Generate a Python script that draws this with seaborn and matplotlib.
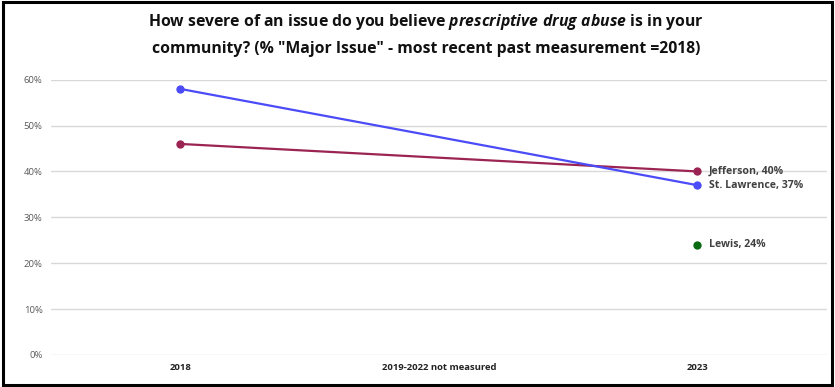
import matplotlib.pyplot as plt
import matplotlib.patches as mpatches
import seaborn as sns
import pandas as pd

# x categories (middle one has no measurement)
periods = ["2018", "2019-2022 not measured", "2023"]

# % "Major Issue" by county
jefferson = [46, None, 40]
st_lawrence = [58, None, 37]
lewis = [None, None, 24]

series = {"Jefferson": jefferson, "St. Lawrence": st_lawrence, "Lewis": lewis}
colors = {"Jefferson": "#9B2453", "St. Lawrence": "#4B4BF7", "Lewis": "#0B6B12"}

rows = []
for name, vals in series.items():
    for i, v in enumerate(vals):
        if v is not None:
            rows.append({"county": name, "pos": i, "pct": v / 100})
df = pd.DataFrame(rows)

sns.set_theme(style="white")
plt.rcParams["font.family"] = ["Open Sans", "DejaVu Sans"]
# bold italic for the highlighted phrase in the title
plt.rcParams["mathtext.fontset"] = "custom"
plt.rcParams["mathtext.it"] = "Open Sans:italic:bold"
plt.rcParams["mathtext.rm"] = "Open Sans:bold"

fig = plt.figure(figsize=(8.35, 3.87), dpi=100)
ax = fig.add_axes([0.061, 0.083, 0.929, 0.711])

sns.lineplot(data=df, x="pos", y="pct", hue="county", palette=colors,
             marker="o", markersize=6, markeredgewidth=0, linewidth=1.6,
             legend=False, ax=ax)

# end labels at last point of each series
for name, g in df.groupby("county"):
    last = g.iloc[-1]
    ax.text(last["pos"] + 0.045, last["pct"], f"{name}, {int(round(last['pct'] * 100))}%",
            va="center", ha="left", fontsize=7.6, fontweight="bold", color="#404040")

ax.set_xlim(-0.5, 2.5)
ax.set_ylim(0, 0.6)
ax.set_yticks([i / 10 for i in range(7)])
ax.set_yticklabels([f"{i * 10}%" for i in range(7)], fontsize=6.8, color="#595959")
ax.set_xticks(range(len(periods)))
ax.set_xticklabels(periods, fontsize=6.8, fontweight="bold", color="#222222")
ax.tick_params(axis="both", length=0, pad=6)
ax.set_xlabel("")
ax.set_ylabel("")
ax.grid(axis="y", color="#D9D9D9", linewidth=1)
ax.set_axisbelow(True)
for s in ax.spines.values():
    s.set_visible(False)
for l in ax.lines:
    l.set_clip_on(False)

fig.text(0.51, 0.943, "How severe of an issue do you believe $\\it{prescriptive\\ drug\\ abuse}$ is in your",
         ha="center", va="center", fontsize=11.3, fontweight="bold", color="#111111")
fig.text(0.51, 0.874, "community? (% \"Major Issue\" - most recent past measurement =2018)",
         ha="center", va="center", fontsize=11.3, fontweight="bold", color="#111111")

fig.patches.append(mpatches.Rectangle((0.003, 0.004), 0.994, 0.992, transform=fig.transFigure,
                                      fill=False, edgecolor="black", linewidth=2.2))

fig.savefig("out.png", dpi=100)
